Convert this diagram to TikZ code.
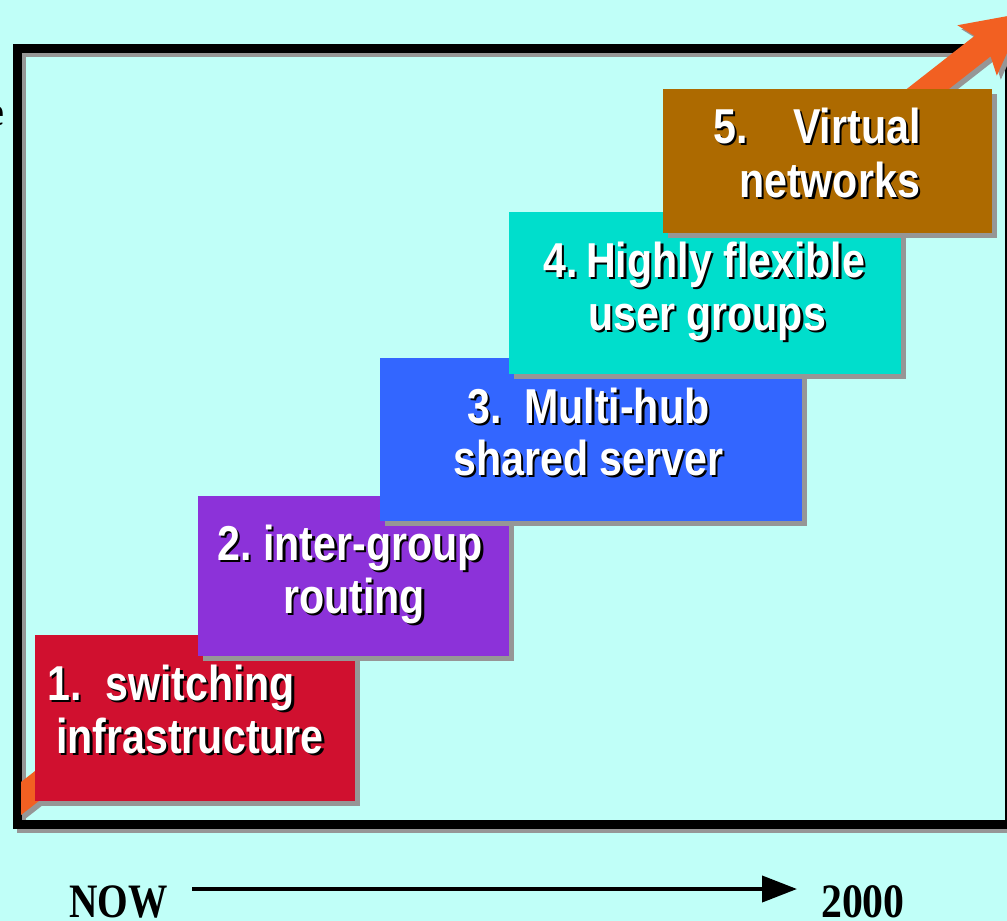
\documentclass[tikz,border=0pt]{standalone}
\usepackage{fontspec}
\usetikzlibrary{arrows.meta}
\newfontfamily\boxfont[FakeStretch=0.84]{Liberation Sans}
\newfontfamily\timefont[FakeStretch=0.82]{Liberation Serif}
\newfontfamily\yearfont[FakeStretch=0.87]{Liberation Serif}
\definecolor{bg}{RGB}{192,255,248}
\definecolor{shadowgray}{RGB}{150,150,150}
\definecolor{c1}{RGB}{208,16,47}
\definecolor{c2}{RGB}{140,50,217}
\definecolor{c3}{RGB}{51,102,255}
\definecolor{c4}{RGB}{0,222,204}
\definecolor{c5}{RGB}{173,106,0}
\definecolor{arroworange}{RGB}{242,96,34}
\tikzset{
  lbl/.style={anchor=base west, inner sep=0pt, font=\boxfont\bfseries\fontsize{49}{53}\selectfont},
  stepbox/.style={anchor=north west, inner sep=0pt, draw=none},
  timetext/.style={anchor=base west, inner sep=0pt, font=\timefont\bfseries\fontsize{48}{52}\selectfont},
}
\newcommand{\shtext}[4]{%
  \node[lbl,text=black] (#1s) at (#2+2.5,#3+2.5) {#4};
  \node[lbl,text=white] (#1) at (#2,#3) {#4};}
\newcommand{\stepbx}[6]{%
  \node[stepbox,fill=shadowgray,minimum width=#4pt,minimum height=#5pt] (#1s) at (#2+5,#3+5) {};
  \node[stepbox,fill=#6,minimum width=#4pt,minimum height=#5pt] (#1) at (#2,#3) {};}
\begin{document}
\begin{tikzpicture}[x=1pt,y=-1pt]
\useasboundingbox (0,0) rectangle (1007,921);
\clip (0,0) rectangle (1007,921);
\fill[bg] (0,0) rectangle (1007,921);
% fragment of a label at the left edge
\node[anchor=base east, inner sep=0pt, text=black, font=\timefont\bfseries\fontsize{40}{44}\selectfont] (frag) at (4,125) {e};
% frame
\draw[shadowgray, line width=9pt] (21.5,52.5) rectangle (1013.5,828.5);
\draw[black, line width=9pt] (17.5,48.5) rectangle (1009.5,824.5);
% big orange arrow
\begin{scope}
\clip (21,0) rectangle (1007,921);
\fill[shadowgray, shift={(25,802.5)}, rotate=38.04]
  (-10,-13) -- (1221,-13) -- (1214,-32) -- (1275,0) -- (1214,32) -- (1221,13) -- (-10,13) -- cycle;
\fill[arroworange, shift={(21,798.5)}, rotate=38.04]
  (-10,-13) -- (1221,-13) -- (1214,-32) -- (1275,0) -- (1214,32) -- (1221,13) -- (-10,13) -- cycle;
\end{scope}
% steps
\stepbx{b1}{35}{635}{320}{166}{c1}
\stepbx{b2}{198}{496}{311}{160}{c2}
\stepbx{b3}{380}{358}{422}{163}{c3}
\stepbx{b4}{509}{212}{392}{162}{c4}
\stepbx{b5}{663}{89}{329}{144}{c5}
% texts
\shtext{t1a}{47}{700}{1.}
\shtext{t1b}{105}{700}{switching}
\shtext{t1c}{56}{753}{infrastructure}
\shtext{t2a}{217}{560}{2.}
\shtext{t2b}{263}{560}{inter-group}
\shtext{t2c}{283}{613}{routing}
\shtext{t3a}{467}{423}{3.}
\shtext{t3b}{524}{423}{Multi-hub}
\shtext{t3c}{453}{475}{shared server}
\shtext{t4a}{543}{277}{4.}
\shtext{t4b}{586}{277}{Highly flexible}
\shtext{t4c}{588}{330}{user groups}
\shtext{t5a}{713}{143}{5.}
\shtext{t5b}{793}{143}{Virtual}
\shtext{t5c}{739}{197}{networks}
% time axis
\node[timetext] (now) at (69,917) {NOW};
\node[timetext, font=\yearfont\bfseries\fontsize{48}{52}\selectfont] (yr) at (821,917) {2000};
\coordinate (a0) at (192,889);
\coordinate (a1) at (797,889);
\draw[black, line width=4pt, -{Triangle[length=35pt,width=26pt]}] (a0) -- (a1);
\end{tikzpicture}
\end{document}
